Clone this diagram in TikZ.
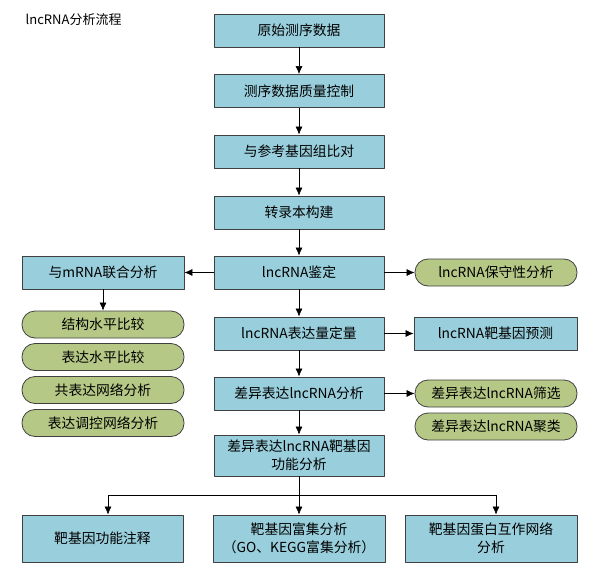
\documentclass[tikz,border=0pt]{standalone}
\usepackage{fontspec}
\setmainfont{Noto Sans CJK SC}
\usetikzlibrary{arrows.meta}
\definecolor{boxblue}{RGB}{153,207,220}
\definecolor{boxgreen}{RGB}{182,200,134}
\definecolor{edgegray}{RGB}{64,64,64}
\tikzset{
  box/.style={draw=edgegray,fill=boxblue,minimum width=170pt,minimum height=33pt,inner sep=2pt,align=center,font=\fontsize{13.8}{18}\selectfont},
  gbox/.style={box,fill=boxgreen,rounded corners=13pt,minimum width=162pt,minimum height=27pt},
}
\begin{document}
\begin{tikzpicture}[x=1pt,y=-1pt,line join=round,>={Latex[length=8pt,width=7pt]},thick]
	\useasboundingbox (0,0) rectangle (600,570);
	\node[anchor=west,font=\fontsize{13}{15}\selectfont] (title) at (22,20) {lncRNA分析流程};
	% main column
	\node[box] (n1) at (299,30.5) {原始测序数据};
	\node[box] (n2) at (299,91) {测序数据质量控制};
	\node[box] (n3) at (299,151.5) {与参考基因组比对};
	\node[box] (n4) at (299,212.5) {转录本构建};
	\node[box] (n5) at (299,272.5) {lncRNA鉴定};
	\node[box] (n6) at (299,333.5) {lncRNA表达量定量};
	\node[box] (n7) at (299,393.5) {差异表达lncRNA分析};
	\node[box,minimum height=41pt] (n8) at (299,455.5) {差异表达lncRNA靶基因\\功能分析};
	\foreach \a/\b in {n1/n2,n2/n3,n3/n4,n4/n5,n5/n6,n6/n7,n7/n8}{\draw[->,semithick] (\a) -- (\b);}
	% left column
	\node[box,minimum width=162pt] (mrna) at (103,272.5) {与mRNA联合分析};
	\foreach \t/\y [count=\i] in {结构水平比较/324.5,表达水平比较/357,共表达网络分析/390,表达调控网络分析/423}{\node[gbox] (g\i) at (103,\y) {\t};}
	\draw[->,semithick] (n5) -- (mrna);
	\draw[->,semithick] (mrna) -- (g1);
	% right column
	\node[gbox] (cons) at (496,272.5) {lncRNA保守性分析};
	\node[box,minimum width=163pt] (tgt) at (495.5,333.5) {lncRNA靶基因预测};
	\node[gbox] (sel) at (496,393.5) {差异表达lncRNA筛选};
	\node[gbox] (clu) at (496,426.5) {差异表达lncRNA聚类};
	\draw[->,semithick] (n5) -- (cons);
	\draw[->,semithick] (n6) -- (tgt);
	\draw[->,semithick] (n7) -- (sel);
	% bottom row
	\node[box,minimum width=161pt,minimum height=47pt] (b1) at (102.5,538.5) {靶基因功能注释};
	\node[box,minimum width=172pt,minimum height=47pt] (b2) at (299,538.5) {靶基因富集分析\\（GO、KEGG富集分析）};
	\node[box,minimum width=172pt,minimum height=47pt] (b3) at (491,538.5) {靶基因蛋白互作网络\\分析};
	\coordinate (busL) at (108,495);
	\coordinate (busR) at (496,495);
	\draw[semithick] (busL) -- (busR);
	\draw[->,semithick] (n8) -- (b2);
	\draw[->,semithick] (busL) -- (b1.north -| busL);
	\draw[->,semithick] (busR) -- (b3.north -| busR);
\end{tikzpicture}
\end{document}
